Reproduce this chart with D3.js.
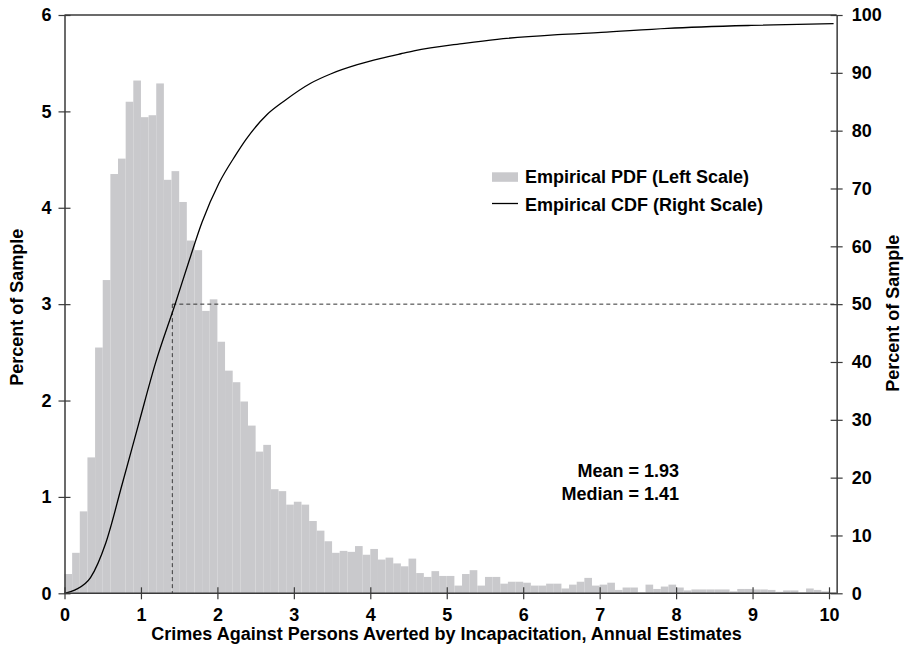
<!DOCTYPE html>
<html>
<head>
<meta charset="utf-8">
<script src="https://cdn.jsdelivr.net/npm/d3@7"></script>
<style>
  html, body { margin: 0; padding: 0; background: #fff; }
  svg { display: block; }
  text { font-family: "Liberation Sans", Arial, Helvetica, sans-serif; font-weight: bold; fill: #000; }
</style>
</head>
<body>
<svg id="chart" width="904" height="664"></svg>
<script>
// Histogram: percent of sample in each 0.1-wide bin, from 0.0 up to 10.0
const binWidth = 0.1;
const pdfPercent = [
  0.20, 0.42, 0.85, 1.41, 2.55, 3.25, 4.35, 4.51, 5.10, 5.32,
  4.94, 4.96, 5.29, 4.29, 4.38, 4.06, 3.66, 3.56, 2.93, 3.05,
  2.61, 2.31, 2.19, 1.99, 1.74, 1.47, 1.54, 1.08, 1.06, 0.92,
  0.95, 0.92, 0.75, 0.65, 0.54, 0.42, 0.44, 0.43, 0.49, 0.40,
  0.46, 0.35, 0.37, 0.31, 0.28, 0.36, 0.21, 0.17, 0.23, 0.18,
  0.18, 0.08, 0.20, 0.24, 0.08, 0.17, 0.17, 0.10, 0.12, 0.12,
  0.11, 0.08, 0.08, 0.10, 0.10, 0.05, 0.09, 0.12, 0.16, 0.08,
  0.09, 0.11, 0.035, 0.06, 0.06, 0.01, 0.09, 0.045, 0.07, 0.09,
  0.06, 0.03, 0.04, 0.04, 0.04, 0.04, 0.04, 0.02, 0.045, 0.045,
  0.04, 0.04, 0.035, 0.015, 0.03, 0.03, 0.01, 0.05, 0.035, 0.02
];

// Cumulative distribution (percent of sample) sampled along the curve
const cdfX = [0, 0.14, 0.34, 0.54, 0.755, 0.97, 1.19, 1.45, 1.63, 1.80, 2.02, 2.24, 2.37,
  2.65, 2.87, 3.22, 3.48, 3.83, 4.14, 4.40, 4.57, 5.23, 5.66, 6.45, 7.02, 7.89, 8.98, 10.06];
const cdfPercent = [0, 0.6, 2.7, 8.7, 18.9, 29.3, 39.8, 50.1, 57.5, 64.2, 70.9, 75.8, 78.4,
  82.8, 85.1, 88.2, 89.8, 91.4, 92.5, 93.3, 93.8, 95.1, 95.8, 96.6, 97.0, 97.7, 98.2, 98.5];

const meanValue = 1.93;
const medianValue = 1.41;
const medianPercent = 50;

const xTicks = [0, 1, 2, 3, 4, 5, 6, 7, 8, 9, 10];
const leftTicks = [0, 1, 2, 3, 4, 5, 6];
const rightTicks = [0, 10, 20, 30, 40, 50, 60, 70, 80, 90, 100];

const legendLabels = ["Empirical PDF (Left Scale)", "Empirical CDF (Right Scale)"];
const xTitle = "Crimes Against Persons Averted by Incapacitation, Annual Estimates";
const yTitle = "Percent of Sample";

const svg = d3.select("#chart");
const plotLeft = 64.5, plotRight = 829, plotTop = 15, plotBottom = 593.3;

const x = d3.scaleLinear().domain([0, 10]).range([plotLeft, plotRight]);
const xEnd = x(10.1);
const yL = d3.scaleLinear().domain([0, 6]).range([plotBottom, plotTop]);
const yR = d3.scaleLinear().domain([0, 100]).range([plotBottom, plotTop]);

const axisColor = "#3a3a3a";
const fontSize = 18;

// Histogram bars
svg.append("g")
  .selectAll("rect")
  .data(pdfPercent)
  .join("rect")
  .attr("x", (d, i) => x(i * binWidth))
  .attr("width", (d, i) => x((i + 1) * binWidth) - x(i * binWidth))
  .attr("y", d => yL(d))
  .attr("height", d => yL(0) - yL(d))
  .attr("fill", "#c9c9cc");

// Median guide lines
svg.append("line")
  .attr("x1", x(medianValue)).attr("x2", x(medianValue))
  .attr("y1", yR(medianPercent)).attr("y2", plotBottom)
  .attr("stroke", "#333").attr("stroke-width", 1).attr("stroke-dasharray", "4,3");
svg.append("line")
  .attr("x1", x(medianValue)).attr("x2", xEnd)
  .attr("y1", yR(medianPercent)).attr("y2", yR(medianPercent))
  .attr("stroke", "#333").attr("stroke-width", 1).attr("stroke-dasharray", "4,3");

// CDF curve
const cdfLine = d3.line()
  .x(d => x(d[0]))
  .y(d => yR(d[1]))
  .curve(d3.curveMonotoneX);
svg.append("path")
  .datum(cdfX.map((v, i) => [v, cdfPercent[i]]))
  .attr("d", cdfLine)
  .attr("fill", "none")
  .attr("stroke", "#000")
  .attr("stroke-width", 1.3);

// Frame top line
svg.append("line")
  .attr("x1", plotLeft).attr("x2", xEnd)
  .attr("y1", plotTop).attr("y2", plotTop)
  .attr("stroke", axisColor).attr("stroke-width", 1.3);

function styleAxis(g, crossAttr) {
  g.select(".domain").attr("stroke", axisColor).attr("stroke-width", 1.5);
  g.selectAll(".tick line").attr("stroke", axisColor).attr("stroke-width", 1.2)
    .attr(crossAttr[0], -6).attr(crossAttr[1], 6);
  g.selectAll(".tick text")
    .attr("font-size", fontSize)
    .attr("font-family", "Liberation Sans, Arial, sans-serif")
    .attr("font-weight", "bold")
    .attr("fill", "#000");
}

// X axis
const gx = svg.append("g")
  .attr("transform", `translate(0,${plotBottom})`)
  .call(d3.axisBottom(x).tickValues(xTicks).tickFormat(d3.format("d")).tickSize(6).tickPadding(9).tickSizeOuter(0));
gx.select(".domain").attr("d", `M${plotLeft},0H${xEnd}`);
styleAxis(gx, ["y1", "y2"]);

// Left axis
const gl = svg.append("g")
  .attr("transform", `translate(${plotLeft},0)`)
  .call(d3.axisLeft(yL).tickValues(leftTicks).tickFormat(d3.format("d")).tickSize(6).tickPadding(7).tickSizeOuter(0));
styleAxis(gl, ["x1", "x2"]);

// Right axis
const gr = svg.append("g")
  .attr("transform", `translate(${xEnd},0)`)
  .call(d3.axisRight(yR).tickValues(rightTicks).tickFormat(d3.format("d")).tickSize(6).tickPadding(9).tickSizeOuter(0));
styleAxis(gr, ["x1", "x2"]);

// Axis titles
svg.append("text")
  .attr("x", (plotLeft + xEnd) / 2 - 4).attr("y", 640)
  .attr("text-anchor", "middle").attr("font-size", fontSize)
  .text(xTitle);
svg.append("text")
  .attr("transform", `translate(23,${(plotTop + plotBottom) / 2 + 3}) rotate(-90)`)
  .attr("text-anchor", "middle").attr("font-size", fontSize)
  .text(yTitle);
svg.append("text")
  .attr("transform", `translate(899,${(plotTop + plotBottom) / 2 + 9}) rotate(-90)`)
  .attr("text-anchor", "middle").attr("font-size", fontSize)
  .text(yTitle);

// Legend
const legend = svg.append("g");
legend.append("rect")
  .attr("x", 492).attr("y", 172.3).attr("width", 26).attr("height", 9.5)
  .attr("fill", "#c9c9cc");
legend.append("line")
  .attr("x1", 492).attr("x2", 518).attr("y1", 203.5).attr("y2", 203.5)
  .attr("stroke", "#000").attr("stroke-width", 1.3);
legend.selectAll("text")
  .data(legendLabels)
  .join("text")
  .attr("x", 525)
  .attr("y", (d, i) => i === 0 ? 183 : 210.5)
  .attr("font-size", fontSize)
  .text(d => d);

// Summary statistics
svg.append("text")
  .attr("x", 679).attr("y", 477)
  .attr("text-anchor", "end").attr("font-size", fontSize)
  .text(`Mean = ${meanValue.toFixed(2)}`);
svg.append("text")
  .attr("x", 679).attr("y", 499.5)
  .attr("text-anchor", "end").attr("font-size", fontSize)
  .text(`Median = ${medianValue.toFixed(2)}`);
</script>
</body>
</html>
